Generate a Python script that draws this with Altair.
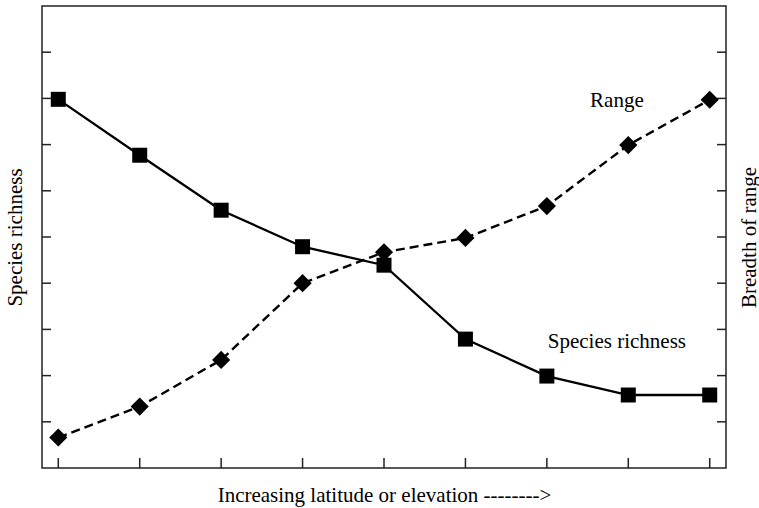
import altair as alt
import pandas as pd

# Position along the gradient (low -> high latitude / elevation)
steps = [0, 1, 2, 3, 4, 5, 6, 7, 8]
# Species richness (left axis) and breadth of range (right axis), same scale
richness = [7.98, 6.77, 5.58, 4.79, 4.39, 2.79, 1.99, 1.58, 1.58]
breadth = [0.66, 1.33, 2.34, 4.0, 4.67, 4.98, 5.67, 6.99, 7.97]

# Inward tick marks
y_ticks = [1, 2, 3, 4, 5, 6, 7, 8, 9]
x_ticks = steps

# Curve labels
label_text = ["Range", "Species richness"]
label_x = [6.86, 6.86]
label_y = [7.95, 2.72]

W, H = 684, 462
FONT = "Liberation Serif"
FS = 21

df_rich = pd.DataFrame({"step": steps, "value": richness})
df_range = pd.DataFrame({"step": steps, "value": breadth})
df_yt = pd.DataFrame({"v": y_ticks})
df_xt = pd.DataFrame({"v": x_ticks})
df_lab = pd.DataFrame({"t": label_text, "x": label_x, "y": label_y})

xs = alt.Scale(domain=[-0.2, 8.2], nice=False, zero=False)
ys = alt.Scale(domain=[0, 10], nice=False, zero=False)

blank = dict(labels=False, ticks=False, domain=False, grid=False)

x_axis = alt.Axis(title="Increasing latitude or elevation -------->",
                  titlePadding=16, **blank)
y_left = alt.Axis(title="Species richness", orient="left",
                  titlePadding=17, **blank)
y_right = alt.Axis(title="Breadth of range", orient="right",
                   titlePadding=33, titleAngle=270, **blank)

X = alt.X("step:Q", scale=xs, axis=x_axis)
Y_L = alt.Y("value:Q", scale=ys, axis=y_left)
Y_R = alt.Y("value:Q", scale=ys, axis=y_right)

rich_line = alt.Chart(df_rich).mark_line(color="black", strokeWidth=2.3).encode(
    x=X, y=Y_L)
rich_pts = alt.Chart(df_rich).mark_point(
    shape="square", filled=True, color="black", size=225, opacity=1
).encode(x=X, y=Y_L)

range_line = alt.Chart(df_range).mark_line(
    color="black", strokeWidth=2.4, strokeDash=[9, 5]
).encode(x=X, y=Y_R)
range_pts = alt.Chart(df_range).mark_point(
    shape="diamond", filled=True, color="black", size=330, opacity=1
).encode(x=X, y=Y_R)

tick_style = dict(color="#222", strokeWidth=1.5)
left_ticks = alt.Chart(df_yt).mark_rule(**tick_style).encode(
    y=alt.Y("v:Q", scale=ys, axis=y_left), x=alt.value(0), x2=alt.value(9))
right_ticks = alt.Chart(df_yt).mark_rule(**tick_style).encode(
    y=alt.Y("v:Q", scale=ys, axis=y_right), x=alt.value(W - 9), x2=alt.value(W))
bottom_ticks = alt.Chart(df_xt).mark_rule(**tick_style).encode(
    x=alt.X("v:Q", scale=xs, axis=x_axis), y=alt.value(H), y2=alt.value(H - 10))

labels = alt.Chart(df_lab).mark_text(
    font=FONT, fontSize=FS, color="black", align="center", baseline="middle"
).encode(x=alt.X("x:Q", scale=xs, axis=x_axis),
         y=alt.Y("y:Q", scale=ys, axis=y_left), text="t:N")

left_group = alt.layer(rich_line, rich_pts, left_ticks, bottom_ticks, labels)
right_group = alt.layer(range_line, range_pts, right_ticks)

chart = (
    alt.layer(left_group, right_group)
    .resolve_axis(y="independent")
    .properties(
        width=W, height=H,
        autosize=alt.AutoSizeParams(type="none"),
        padding={"left": 42, "top": 6, "right": 33, "bottom": 40},
        background="white",
    )
    .configure_axis(titleFont=FONT, titleFontSize=FS, titleFontWeight="normal",
                    titleColor="black")
    .configure_view(stroke="#222", strokeWidth=1.5)
)

chart.save("out.html", embed_options={"renderer": "svg", "actions": False})
